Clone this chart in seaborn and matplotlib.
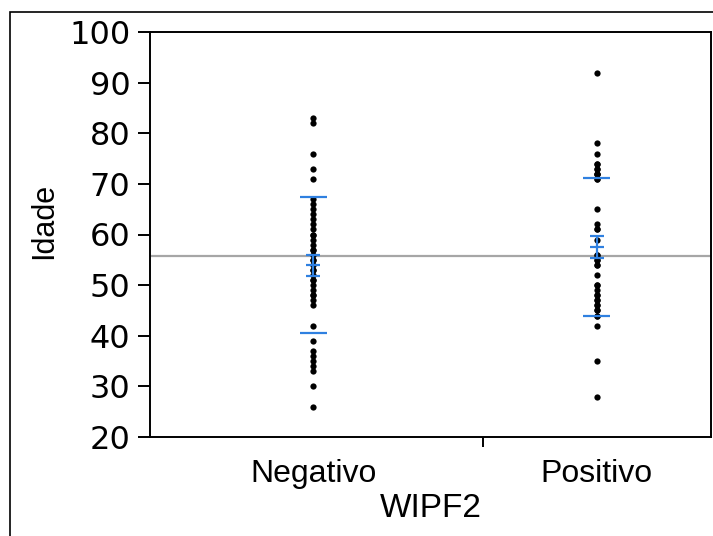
import numpy as np
import pandas as pd
import seaborn as sns
import matplotlib.pyplot as plt
from matplotlib.patches import Rectangle

# Age values (stacked dots hide some repeats)
negativo = [83, 82, 76, 73, 71, 67, 66, 65, 64, 63, 62, 61, 60, 59, 58, 57, 56, 55,
            54, 53, 52, 51, 50, 49, 48, 47, 46, 42, 39, 37, 36, 35, 34, 33, 30, 26,
            60, 57, 55, 53, 51, 48]
positivo = [92, 78, 76, 74, 73, 72, 71, 65, 62, 61, 59, 56, 54, 52, 50, 49, 48, 47,
            46, 45, 44, 42, 35, 28,
            74, 73, 72, 72, 71, 61, 56, 55, 55, 54, 50, 48, 47, 46, 45, 44]
groups = ["Negativo", "Positivo"]

df = pd.DataFrame({
    "WIPF2": ["Negativo"] * len(negativo) + ["Positivo"] * len(positivo),
    "Idade": negativo + positivo,
})

sns.set_style("ticks")
plt.rcParams["font.family"] = ["DejaVu Sans"]
for k in ["text.color", "axes.labelcolor", "xtick.color", "ytick.color"]:
    plt.rcParams[k] = "black"
narrow = ["Liberation Sans", "DejaVu Sans"]

fig = plt.figure(figsize=(7.13, 5.36), dpi=100)
ax = fig.add_axes([150 / 713, 1 - 437 / 536, 561 / 713, (437 - 32) / 536])

# grand mean line
ax.axhline(df["Idade"].mean(), color="#a6a6a6", lw=1.6, zorder=1)

sns.stripplot(data=df, x="WIPF2", y="Idade", order=groups, jitter=False,
              color="black", size=4.5, linewidth=0, ax=ax, zorder=3)

blue = "#2f80e0"
for i, g in enumerate(groups):
    v = df.loc[df["WIPF2"] == g, "Idade"]
    m, sd = v.mean(), v.std()
    se = sd / np.sqrt(len(v))
    ax.hlines([m - sd, m + sd], i - 0.048, i + 0.048, color=blue, lw=1.6, zorder=4)
    ax.hlines([m - se, m, m + se], i - 0.025, i + 0.025, color=blue, lw=1.6, zorder=4)
    ax.vlines(i, m - se, m + se, color=blue, lw=1.6, zorder=4)

ax.set_ylim(20, 100)
ax.set_yticks(range(20, 101, 10))
ax.set_xlim(-0.576, 1.403)
ax.set_xticks([0.597], minor=True)

for s in ax.spines.values():
    s.set_linewidth(1.4)
    s.set_color("black")

ax.tick_params(axis="y", direction="out", length=9, width=1.4, labelsize=23, pad=5)
ax.tick_params(axis="x", which="major", length=0, pad=16)
ax.tick_params(axis="x", which="minor", direction="out", length=7, width=1.4)
for lab in ax.get_xticklabels():
    lab.set_family(narrow)
    lab.set_fontsize(23)

ax.set_xlabel("WIPF2", fontsize=24, family=narrow, labelpad=3)
ax.set_ylabel("Idade", fontsize=22, family=narrow)
ax.yaxis.set_label_coords(-0.162, 0.533)

# outer frame around the chart
fig.add_artist(Rectangle((10 / 713, -0.1), 1.2, 1 - 12 / 536 + 0.1,
                         transform=fig.transFigure, fill=False, lw=1.2,
                         edgecolor="black", clip_on=False))

fig.savefig("out.png", dpi=100)
